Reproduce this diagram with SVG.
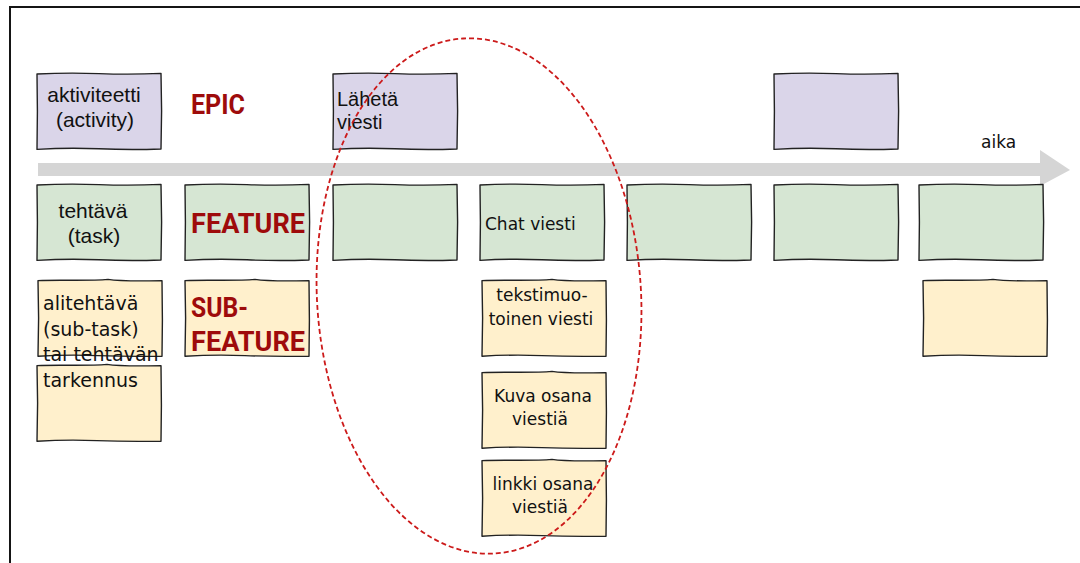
<svg xmlns="http://www.w3.org/2000/svg" xmlns:xlink="http://www.w3.org/1999/xlink" width="1080" height="563" viewBox="0 0 1080 563">
  <defs>
    <style>
      .card { stroke: #222; stroke-width: 1.4; stroke-linejoin: round; }
      .epic { fill: #dad5e9; }
      .feat { fill: #d6e6d3; }
      .sub  { fill: #fff0cc; }
      .sans { font-family: "Liberation Sans", Arial, sans-serif; font-size: 20px; fill: #111; }
      .sans21 { font-family: "Liberation Sans", Arial, sans-serif; font-size: 21px; fill: #111; }
      .hum  { font-family: "DejaVu Sans", Verdana, sans-serif; font-size: 17px; fill: #111; }
      .hum19 { font-family: "DejaVu Sans", Verdana, sans-serif; font-size: 19px; fill: #111; }
      .tag  { font-family: Roboto, "DejaVu Sans", sans-serif; font-weight: bold; font-size: 27px; fill: #9e0b0b; }
      .frame { fill: none; stroke: #151515; stroke-width: 2; }
      .ring { fill: none; stroke: #cc1a1a; stroke-width: 1.8; stroke-dasharray: 5 3; }
    </style>
    <!-- sketchy card outlines, 124 x 76 -->
    <path id="cardA" d="M0,1 Q31,-0.6 62,0.6 T124,0.4 L124.6,38 L124,76 Q93,77.2 62,75.8 T0,76.4 L0.4,38 Z"/>
    <path id="cardB" d="M0,0.6 C22,-0.4 50,1.2 70,-0.6 C84,1.6 104,0.8 124,0.8 L124.4,40 L124,76.2 Q90,76.8 60,75.6 T0,76.2 L0.6,38 Z"/>
  </defs>

  <rect width="1080" height="563" fill="#ffffff"/>

  <!-- outer frame -->
  <path class="frame" d="M10,563 L10,7 L1080,7"/>

  <!-- time axis -->
  <g id="connectors">
    <polygon fill="#d5d5d5" points="38,163 1040,163 1040,150 1070,170 1040,186 1040,176 38,176"/>
  </g>
  <text class="hum" x="981" y="148">aika</text>

  <!-- epic row -->
  <g id="epic-activity">
    <use xlink:href="#cardA" href="#cardA" class="card epic" x="37" y="73"/>
    <text class="sans21" text-anchor="middle" x="94" y="102">aktiviteetti</text>
    <text class="sans21" text-anchor="middle" x="95" y="127">(activity)</text>
  </g>
  <g id="epic-label">
    <text class="tag" x="191" y="114" textLength="54" lengthAdjust="spacingAndGlyphs">EPIC</text>
  </g>
  <g id="epic-send">
    <use xlink:href="#cardA" href="#cardA" class="card epic" x="333" y="73"/>
    <text class="sans" x="337" y="106">Lähetä</text>
    <text class="sans" x="337" y="129">viesti</text>
  </g>
  <g id="epic-empty">
    <use xlink:href="#cardA" href="#cardA" class="card epic" x="774" y="73"/>
  </g>

  <!-- feature row -->
  <g id="feature-task">
    <use xlink:href="#cardA" href="#cardA" class="card feat" x="37" y="184"/>
    <text class="sans21" text-anchor="middle" x="93" y="218">tehtävä</text>
    <text class="sans21" text-anchor="middle" x="94" y="243">(task)</text>
  </g>
  <g id="feature-label">
    <use xlink:href="#cardA" href="#cardA" class="card feat" x="185" y="184"/>
    <text class="tag" x="191" y="233" textLength="114" lengthAdjust="spacingAndGlyphs">FEATURE</text>
  </g>
  <g id="feature-3">
    <use xlink:href="#cardA" href="#cardA" class="card feat" x="333" y="184"/>
  </g>
  <g id="feature-chat">
    <use xlink:href="#cardA" href="#cardA" class="card feat" x="480" y="184"/>
    <text class="hum" x="485" y="230">Chat viesti</text>
  </g>
  <g id="feature-5">
    <use xlink:href="#cardA" href="#cardA" class="card feat" x="627" y="184"/>
  </g>
  <g id="feature-6">
    <use xlink:href="#cardA" href="#cardA" class="card feat" x="774" y="184"/>
  </g>
  <g id="feature-7">
    <use xlink:href="#cardA" href="#cardA" class="card feat" x="919" y="184"/>
  </g>

  <!-- sub-feature row -->
  <g id="subtask-extra">
    <use xlink:href="#cardB" href="#cardB" class="card sub" x="37" y="365"/>
  </g>
  <g id="subtask">
    <use xlink:href="#cardB" href="#cardB" class="card sub" x="38" y="280"/>
    <text class="hum19" x="43" y="310">alitehtävä</text>
    <text class="hum19" x="43" y="336">(sub-task)</text>
    <text class="hum19" x="43" y="361">tai tehtävän</text>
    <text class="hum19" x="43" y="387">tarkennus</text>
  </g>
  <g id="subfeature-label">
    <use xlink:href="#cardB" href="#cardB" class="card sub" x="185" y="280"/>
    <text class="tag" x="191" y="317" textLength="57" lengthAdjust="spacingAndGlyphs">SUB-</text>
    <text class="tag" x="191" y="351" textLength="114" lengthAdjust="spacingAndGlyphs">FEATURE</text>
  </g>
  <g id="sub-text">
    <use xlink:href="#cardB" href="#cardB" class="card sub" x="482" y="280"/>
    <text class="hum" text-anchor="middle" x="542" y="301">tekstimuo-</text>
    <text class="hum" text-anchor="middle" x="541" y="325">toinen viesti</text>
  </g>
  <g id="sub-image">
    <use xlink:href="#cardB" href="#cardB" class="card sub" x="482" y="372"/>
    <text class="hum" text-anchor="middle" x="543" y="402">Kuva osana</text>
    <text class="hum" text-anchor="middle" x="540" y="425">viestiä</text>
  </g>
  <g id="sub-link">
    <use xlink:href="#cardB" href="#cardB" class="card sub" x="482" y="460"/>
    <text class="hum" text-anchor="middle" x="543" y="490">linkki osana</text>
    <text class="hum" text-anchor="middle" x="540" y="513">viestiä</text>
  </g>
  <g id="sub-right">
    <use xlink:href="#cardB" href="#cardB" class="card sub" x="923" y="280"/>
  </g>

  <!-- dashed highlight around the message slice -->
  <g id="highlight">
    <ellipse class="ring" cx="479" cy="296" rx="162" ry="258" transform="rotate(-3.5 479 296)"/>
  </g>
</svg>
